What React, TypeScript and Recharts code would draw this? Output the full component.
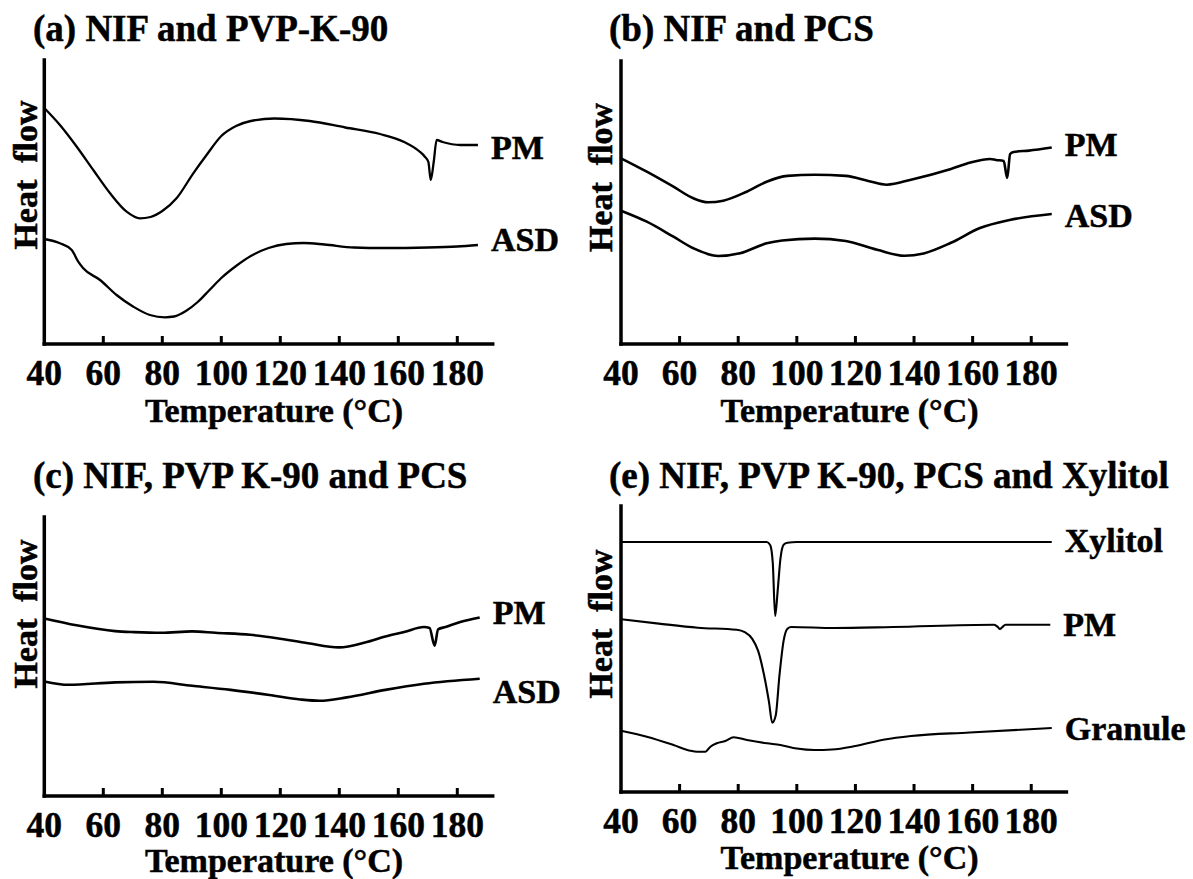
import React from 'react';
import { LineChart, Line, XAxis, YAxis } from 'recharts';

// Shared temperature axis
const TEMP_TICKS = [40, 60, 80, 100, 120, 140, 160, 180];
const TEMP_DOMAIN: [number, number] = [40, 192];

// Heat-flow traces: [temperature °C, heat flow (arbitrary units, endo down)]
// (a) NIF and PVP-K-90
const A_PM: [number, number][] = [
  [40, 236], [45.3, 219], [51, 197.3], [56.6, 174], [62.3, 150.7], [67.9, 132.3],
  [72.4, 125.7], [76, 127], [80, 133], [84.9, 146], [90.5, 170.7], [95, 189], [100, 208],
  [105, 218], [110, 223], [118, 225.5], [130, 223], [142, 216.5], [153.8, 210],
  [162, 202], [167, 193], [169, 187.3], [170.2, 182], [171, 164], [172, 182],
  [173, 204], [175, 202], [181, 199], [187, 199],
];
const A_ASD: [number, number][] = [
  [40, 105], [45.3, 100.7], [49.3, 94], [51.5, 82.3], [53.2, 75.7], [58.9, 64],
  [64.5, 49], [70.2, 37.3], [75.8, 29], [80.9, 26.7], [84, 27.5], [88, 33], [92, 42],
  [96, 54], [100, 66], [105, 78], [110, 88], [116, 96], [122, 100], [128, 101],
  [135, 99.5], [145, 96.5], [155, 96], [170, 96.5], [180, 97.5], [187, 99],
];

// (b) NIF and PCS
const B_PM: [number, number][] = [
  [40, 185.7], [48.8, 172.3], [57.9, 157.3], [64.7, 145.7], [69.7, 141.7], [74.9, 143.3],
  [82.9, 152.3], [89.7, 162.3], [96.8, 168.1], [106.1, 169.2], [116.7, 168.1],
  [124.7, 162.8], [130.7, 159.3], [139.3, 164.6], [152.6, 175.1], [159.3, 181.5],
  [166, 185], [168, 184], [170.6, 183], [171.8, 166], [172.8, 190], [174, 192],
  [179.2, 193.4], [187, 196.5],
];
const B_ASD: [number, number][] = [
  [40, 133.3], [48.8, 122.3], [57.9, 107.3], [64.7, 95.7], [73.2, 88], [80.6, 90.7],
  [89.7, 100.7], [95, 103.5], [106.1, 105.4], [116.7, 103], [127.4, 94.2],
  [136.7, 88.2], [143.3, 90.6], [152.6, 101.2], [162.5, 116], [172.6, 124], [187, 130],
];

// (c) NIF, PVP K-90 and PCS
const C_PM: [number, number][] = [
  [40, 177.5], [50.9, 170.7], [64, 164.9], [70.5, 163.9], [79.7, 163.2], [90.1, 164.6],
  [98, 163.2], [109.8, 161.2], [118.9, 157.8], [129.4, 152.7], [139.9, 148.6],
  [149, 153.7], [155.6, 159.5], [162, 164], [168.7, 169], [170.6, 168], [172.3, 150.3],
  [173.5, 166.6], [176, 169], [181, 174], [187.6, 178.5],
];
const C_ASD: [number, number][] = [
  [40, 114.6], [48.2, 111.2], [64, 113.6], [77, 114.2], [90.1, 110.2], [103.2, 106.1],
  [116.3, 101], [126.8, 96.5], [133.3, 95.2], [142.5, 98.6], [155.6, 106.1],
  [168.7, 112.2], [187.6, 117.3],
];

// (e) NIF, PVP K-90, PCS and Xylitol
const E_XYLITOL: [number, number][] = [
  [40, 250], [89.7, 250], [90.9, 247], [91.8, 229], [92.6, 176], [93.5, 202.4],
  [94.4, 233], [95.5, 247.3], [96.8, 249.3], [100, 250], [187, 250],
];
const E_PM: [number, number][] = [
  [40, 172.8], [52.9, 168.4], [66.2, 164.3], [79.5, 162.2], [82.2, 159.9], [84.8, 153.1],
  [86.8, 141.2], [88.8, 117.3], [90.5, 90.1], [91.6, 69.3], [92.8, 76.6], [94.1, 117.3],
  [95.5, 151.4], [96.8, 163.3], [98.1, 165], [112.7, 164], [132.7, 165], [167.3, 167.3],
  [168.6, 165], [169.3, 163], [170.2, 165], [171.2, 167.3], [186.5, 167.3],
];
const E_GRANULE: [number, number][] = [
  [40, 61.3], [48.8, 55.3], [57.9, 47], [63.6, 41.3], [66, 40.3], [68.8, 40.3],
  [70.5, 45.3], [72.7, 48.7], [75.6, 51], [78.4, 54.7], [83, 52], [89.8, 48.7],
  [94.4, 47], [100, 43.5], [106, 42], [112, 42.5], [120, 46], [130, 52.5], [139, 56],
  [159, 59.5], [187, 64],
];

const PANEL_TITLES = [
  '(a) NIF and PVP-K-90',
  '(b) NIF and PCS',
  '(c) NIF, PVP K-90 and PCS',
  '(e) NIF, PVP K-90, PCS and Xylitol',
];

const FONT = "'Liberation Serif', 'Times New Roman', Times, serif";
const Y_AXIS_W = 40;
const X_AXIS_H = 60;
const TEXT_STROKE = 0.5;

type Series = { name: string; points: [number, number][]; labelDy: number };
type Rect = { left: number; top: number; width: number; height: number };
type Plot = { left: number; top: number; right: number; bottom: number };
type Panel = {
  title: string;
  titlePos: [number, number];
  box: Rect;
  plot: Plot;
  heatFlowPos: [number, number];
  tempPos: [number, number];
  lineWidth: number;
  series: Series[];
};

const PANELS: Panel[] = [
  {
    title: PANEL_TITLES[0],
    titlePos: [33, 41],
    box: { left: 0, top: 0, width: 597, height: 440 },
    plot: { left: 44.3, top: 60, right: 492.7, bottom: 344 },
    heatFlowPos: [37, 175],
    tempPos: [274, 422],
    lineWidth: 2.3,
    series: [
      { name: 'PM', points: A_PM, labelDy: 2.5 },
      { name: 'ASD', points: A_ASD, labelDy: -6 },
    ],
  },
  {
    title: PANEL_TITLES[1],
    titlePos: [609, 41],
    box: { left: 577, top: 0, width: 616, height: 440 },
    plot: { left: 621, top: 61, right: 1066.4, bottom: 344 },
    heatFlowPos: [612, 177.5],
    tempPos: [849.5, 422],
    lineWidth: 2.6,
    series: [
      { name: 'PM', points: B_PM, labelDy: -3 },
      { name: 'ASD', points: B_ASD, labelDy: 1.5 },
    ],
  },
  {
    title: PANEL_TITLES[2],
    titlePos: [33, 488],
    box: { left: 0, top: 446, width: 597, height: 433 },
    plot: { left: 44.3, top: 517, right: 492.7, bottom: 796 },
    heatFlowPos: [37, 614],
    tempPos: [274, 872],
    lineWidth: 2.6,
    series: [
      { name: 'PM', points: C_PM, labelDy: -5 },
      { name: 'ASD', points: C_ASD, labelDy: 13 },
    ],
  },
  {
    title: PANEL_TITLES[3],
    titlePos: [609, 488],
    box: { left: 577, top: 446, width: 616, height: 433 },
    plot: { left: 621, top: 506, right: 1066.4, bottom: 792 },
    heatFlowPos: [612, 624],
    tempPos: [849.5, 869],
    lineWidth: 2.1,
    series: [
      { name: 'Xylitol', points: E_XYLITOL, labelDy: -2 },
      { name: 'PM', points: E_PM, labelDy: 0 },
      { name: 'Granule', points: E_GRANULE, labelDy: 0 },
    ],
  },
];

const axisLineStyle = { stroke: '#000', strokeWidth: 3.5, strokeLinecap: 'square' as const };

// Inward tick mark plus the temperature value underneath the axis
const TempTick = (props: any) => {
  const { x, y, payload } = props;
  return (
    <g>
      {payload.value !== TEMP_DOMAIN[0] && (
        <line x1={x} x2={x} y1={y} y2={y - 8} stroke="#000" strokeWidth={3} />
      )}
      <text
        x={x}
        y={y + 41}
        textAnchor="middle"
        fontFamily={FONT}
        fontWeight="bold"
        fontSize={35.5}
        fill="#000"
        stroke="#000"
        strokeWidth={TEXT_STROKE}
      >
        {payload.value}
      </text>
    </g>
  );
};

// Curve name written just right of the curve's last point
const endLabel = (s: Series) => (p: any) => {
  if (p.index !== s.points.length - 1) return null;
  const x = p.x ?? p.viewBox?.x;
  const y = p.y ?? p.viewBox?.y;
  return (
    <text
      key={`lbl-${s.name}`}
      x={x + 13}
      y={y + s.labelDy + 11.5}
      fontFamily={FONT}
      fontWeight="bold"
      fontSize={34}
      fill="#000"
      stroke="#000"
      strokeWidth={TEXT_STROKE}
    >
      {s.name}
    </text>
  );
};

const PanelChart = ({ panel }: { panel: Panel }) => {
  const { box, plot } = panel;
  const margin = {
    left: plot.left - box.left - Y_AXIS_W,
    top: plot.top - box.top,
    right: box.left + box.width - plot.right,
    bottom: box.top + box.height - plot.bottom - X_AXIS_H,
  };
  const yMax = plot.bottom - plot.top;
  return (
    <div style={{ position: 'absolute', left: box.left, top: box.top, width: box.width, height: box.height }}>
      <LineChart width={box.width} height={box.height} margin={margin}>
        <XAxis
          type="number"
          dataKey="t"
          domain={TEMP_DOMAIN}
          ticks={TEMP_TICKS}
          interval={0}
          tickSize={0}
          tickMargin={0}
          height={X_AXIS_H}
          tickLine={false}
          axisLine={axisLineStyle}
          tick={(p: any) => <TempTick {...p} />}
        />
        <YAxis
          type="number"
          dataKey="v"
          domain={[0, yMax]}
          width={Y_AXIS_W}
          tick={false}
          tickLine={false}
          axisLine={axisLineStyle}
        />
        {panel.series.map((s) => (
          <Line
            key={s.name}
            data={s.points.map(([t, v]) => ({ t, v }))}
            dataKey="v"
            type="monotone"
            stroke="#000"
            strokeWidth={panel.lineWidth}
            dot={false}
            activeDot={false}
            isAnimationActive={false}
            label={endLabel(s)}
          />
        ))}
      </LineChart>
    </div>
  );
};

export default function App() {
  const textStyle = {
    fontFamily: FONT,
    fontWeight: 'bold' as const,
    fill: '#000',
    stroke: '#000',
    strokeWidth: TEXT_STROKE,
  };
  return (
    <div style={{ position: 'absolute', left: 0, top: 0, width: 1193, height: 879, background: '#fff', overflow: 'hidden' }}>
      {PANELS.map((p) => (
        <PanelChart key={p.title} panel={p} />
      ))}
      <svg width={1193} height={879} style={{ position: 'absolute', left: 0, top: 0, pointerEvents: 'none' }}>
        {PANELS.map((p) => (
          <g key={p.title}>
            <text x={p.titlePos[0]} y={p.titlePos[1]} fontSize={37} {...textStyle}>
              {p.title}
            </text>
            <text
              x={p.heatFlowPos[0]}
              y={p.heatFlowPos[1]}
              fontSize={34}
              textAnchor="middle"
              transform={`rotate(-90 ${p.heatFlowPos[0]} ${p.heatFlowPos[1]})`}
              {...textStyle}
            >
              {'Heat\u00A0\u00A0flow'}
            </text>
            <text x={p.tempPos[0]} y={p.tempPos[1]} fontSize={34} textAnchor="middle" {...textStyle}>
              Temperature (°C)
            </text>
          </g>
        ))}
      </svg>
    </div>
  );
}
